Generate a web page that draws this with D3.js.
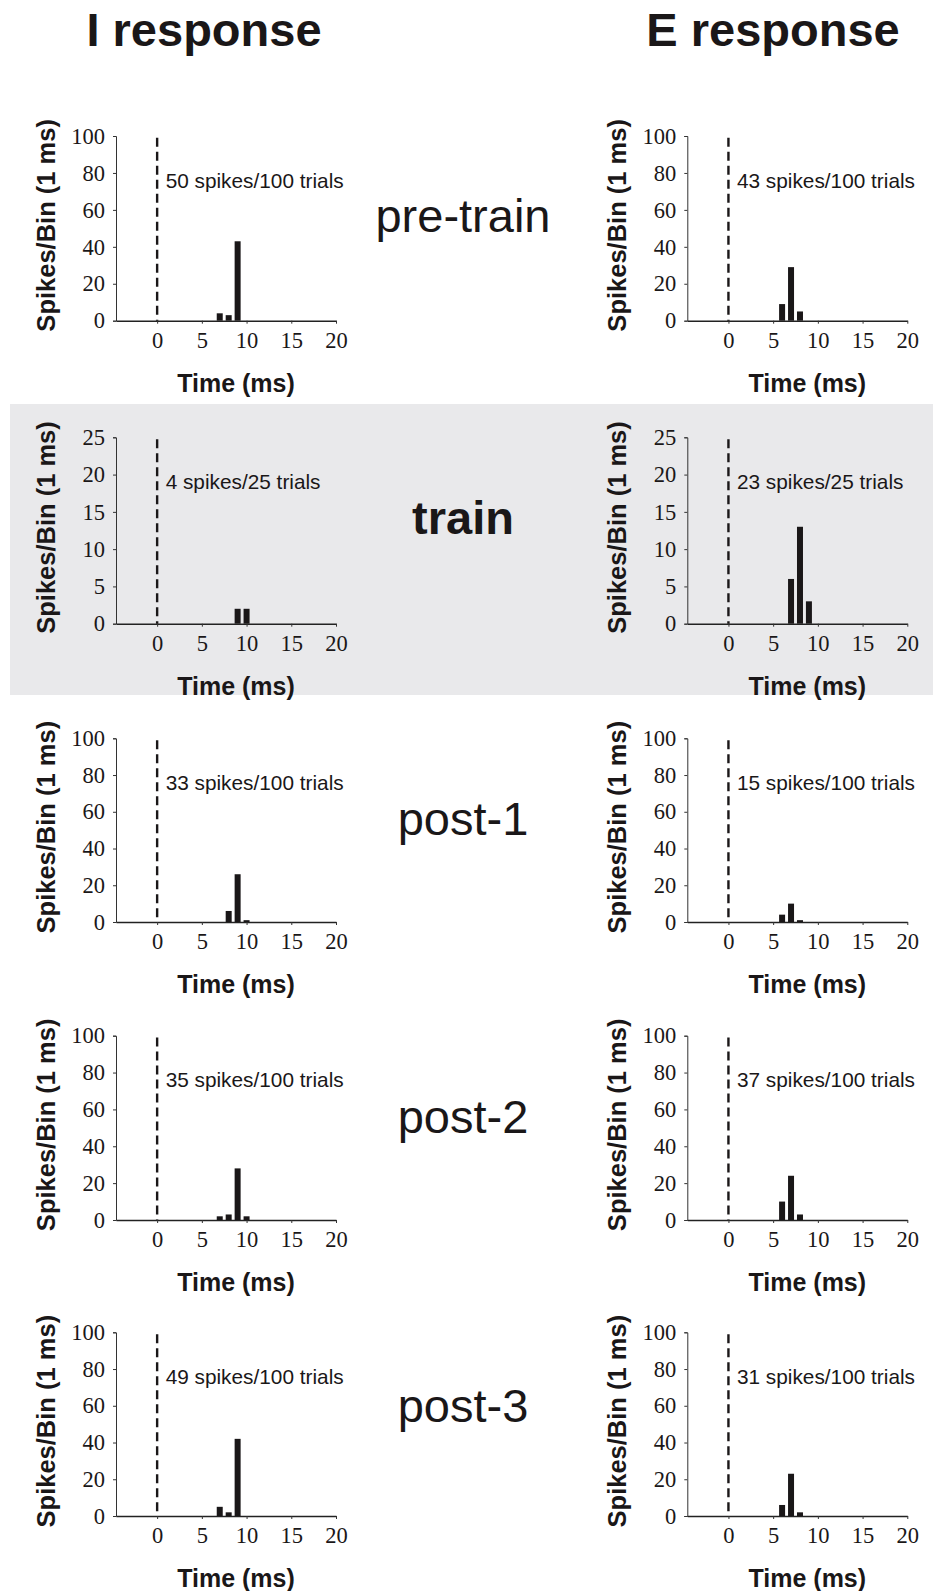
<!DOCTYPE html>
<html>
<head>
<meta charset="utf-8">
<script src="https://cdn.jsdelivr.net/npm/d3@7"></script>
<style>
  body { margin: 0; background: #fff; }
  svg { display: block; }
</style>
</head>
<body>
<div id="chart"></div>
<script>
// data
const rowLabels = ["pre-train", "train", "post-1", "post-2", "post-3"];
const yMax = [100, 25, 100, 100, 100];
const yTicks100 = [0, 20, 40, 60, 80, 100];
const yTicks25 = [0, 5, 10, 15, 20, 25];
const timeTicks = [0, 5, 10, 15, 20];
const trials = [100, 25, 100, 100, 100];
const iSpikes = [50, 4, 33, 35, 49];
const eSpikes = [43, 23, 15, 37, 31];
// [time bin (ms), spikes]
const iCounts = [
    [[7, 4], [8, 3], [9, 43]],
    [[9, 2], [10, 2]],
    [[8, 6], [9, 26], [10, 1]],
    [[7, 2], [8, 3], [9, 28], [10, 2]],
    [[7, 5], [8, 2], [9, 42]]
];
const eCounts = [
    [[6, 9], [7, 29], [8, 5]],
    [[7, 6], [8, 13], [9, 3]],
    [[6, 4], [7, 10], [8, 1]],
    [[6, 10], [7, 24], [8, 3]],
    [[6, 6], [7, 23], [8, 2]]
];

// layout
const width = 933, height = 1591;
const rowTop = [136, 437.3, 738.3, 1035.7, 1332.3];
const rowBottom = [320.7, 623.7, 922, 1220, 1516];
const rowLabelY = [232, 534, 835, 1133, 1422];
const colLeft = [116, 687.3];
const colRight = [336, 907.3];
const sans = "'Liberation Sans', Arial, Helvetica, sans-serif";
const serif = "'Liberation Serif', 'Times New Roman', serif";
const ink = '#1a1718';

const svg = d3.select('#chart').append('svg')
    .attr('width', width)
    .attr('height', height);

svg.append('rect').attr('width', width).attr('height', height).attr('fill', '#fff');

// shaded training row
svg.append('rect')
    .attr('x', 10).attr('y', 404)
    .attr('width', width - 10).attr('height', 291)
    .attr('fill', '#e9e9eb');

// column titles
svg.append('text').attr('x', 204).attr('y', 46)
    .attr('text-anchor', 'middle')
    .style('font-family', sans).style('font-weight', 'bold').style('font-size', '47px')
    .attr('fill', ink)
    .text('I response');
svg.append('text').attr('x', 773).attr('y', 46)
    .attr('text-anchor', 'middle')
    .style('font-family', sans).style('font-weight', 'bold').style('font-size', '47px')
    .attr('fill', ink)
    .text('E response');

function drawPanel(col, row, counts, spikes) {
    const x = d3.scaleLinear().domain([-4.6, 20]).range([colLeft[col], colRight[col]]);
    const y = d3.scaleLinear().domain([0, yMax[row]]).range([rowBottom[row], rowTop[row]]);
    const g = svg.append('g').attr('class', 'panel');

    // y axis
    const yAxis = d3.axisLeft(y)
        .tickValues(yMax[row] === 25 ? yTicks25 : yTicks100)
        .tickSize(3)
        .tickPadding(8);
    const ya = g.append('g')
        .attr('transform', `translate(${colLeft[col]},0)`)
        .call(yAxis);
    ya.select('.domain').attr('stroke', '#333').attr('stroke-width', 1);
    ya.selectAll('.tick line').attr('stroke', '#333');
    ya.selectAll('.tick text')
        .style('font-family', serif).style('font-size', '22.5px').attr('fill', ink);

    // x axis
    const xAxis = d3.axisBottom(x)
        .tickValues(timeTicks)
        .tickSize(3)
        .tickSizeOuter(0)
        .tickPadding(8);
    const xa = g.append('g')
        .attr('transform', `translate(0,${rowBottom[row]})`)
        .call(xAxis);
    xa.select('.domain').attr('stroke', '#222').attr('stroke-width', 1.5);
    xa.selectAll('.tick line').attr('stroke', '#333');
    xa.selectAll('.tick text')
        .style('font-family', serif).style('font-size', '22.5px').attr('fill', ink);

    // stimulus onset
    g.append('line')
        .attr('x1', x(0)).attr('x2', x(0))
        .attr('y1', y(yMax[row] * 0.99)).attr('y2', y(0))
        .attr('stroke', ink)
        .attr('stroke-width', 2.4)
        .attr('stroke-dasharray', '9,5');

    // histogram bars
    const bw = x(0.67) - x(0);
    g.selectAll('.bar')
        .data(counts)
        .enter()
        .append('rect')
        .attr('class', 'bar')
        .attr('x', d => x(d[0]) - bw / 2)
        .attr('y', d => y(d[1]))
        .attr('width', bw)
        .attr('height', d => y(0) - y(d[1]))
        .attr('fill', ink);

    // count annotation
    g.append('text')
        .attr('x', x(0) + 8.5)
        .attr('y', y(yMax[row] * 0.72))
        .style('font-family', sans).style('font-size', '20.8px')
        .attr('fill', ink)
        .text(`${spikes} spikes/${trials[row]} trials`);

    // axis titles
    const cy = (rowTop[row] + rowBottom[row]) / 2 - 3;
    g.append('text')
        .attr('transform', `translate(${colLeft[col] - 61.5},${cy}) rotate(-90)`)
        .attr('text-anchor', 'middle')
        .style('font-family', sans).style('font-weight', 'bold').style('font-size', '25.5px')
        .attr('fill', ink)
        .text('Spikes/Bin (1 ms)');
    g.append('text')
        .attr('x', colLeft[col] + 120)
        .attr('y', rowBottom[row] + 71)
        .attr('text-anchor', 'middle')
        .style('font-family', sans).style('font-weight', 'bold').style('font-size', '25px')
        .attr('fill', ink)
        .text('Time (ms)');
}

rowLabels.forEach((label, i) => {
    drawPanel(0, i, iCounts[i], iSpikes[i]);
    drawPanel(1, i, eCounts[i], eSpikes[i]);

    svg.append('text')
        .attr('x', 463)
        .attr('y', rowLabelY[i])
        .attr('text-anchor', 'middle')
        .style('font-family', sans)
        .style('font-weight', label === 'train' ? 'bold' : 'normal')
        .style('font-size', '47px')
        .attr('fill', ink)
        .text(label);
});
</script>
</body>
</html>
